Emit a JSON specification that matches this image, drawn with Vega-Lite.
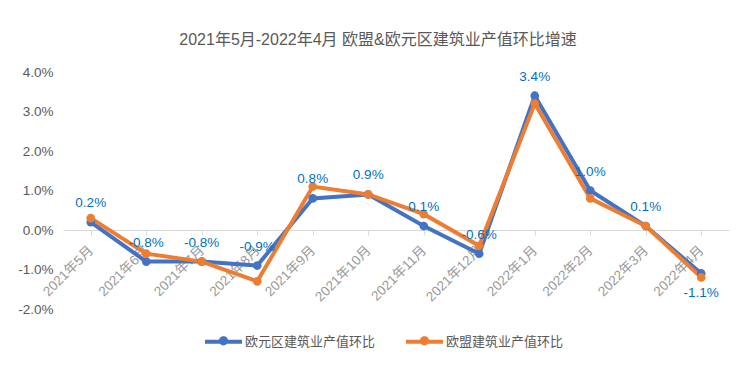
{
  "$schema": "https://vega.github.io/schema/vega-lite/v6.json",
  "autosize": {"type": "none"},
  "width": 666,
  "height": 237,
  "padding": {"left": 63, "top": 72, "right": 22, "bottom": 61},
  "background": "white",
  "title": {
    "text": "2021年5月-2022年4月 欧盟&欧元区建筑业产值环比增速",
    "frame": "group",
    "anchor": "middle",
    "dx": -18,
    "offset": 17,
    "fontSize": 16,
    "fontWeight": "normal",
    "color": "#595959",
    "font": "Liberation Sans, Noto Sans CJK SC"
  },
  "config": {
    "view": {"stroke": null},
    "font": "Liberation Sans, Noto Sans CJK SC"
  },
  "data": {
    "values": [
      {"month": "2021年5月", "series": "欧元区建筑业产值环比", "value": 0.002},
      {"month": "2021年6月", "series": "欧元区建筑业产值环比", "value": -0.008},
      {"month": "2021年7月", "series": "欧元区建筑业产值环比", "value": -0.008},
      {"month": "2021年8月", "series": "欧元区建筑业产值环比", "value": -0.009},
      {"month": "2021年9月", "series": "欧元区建筑业产值环比", "value": 0.008},
      {"month": "2021年10月", "series": "欧元区建筑业产值环比", "value": 0.009},
      {"month": "2021年11月", "series": "欧元区建筑业产值环比", "value": 0.001},
      {"month": "2021年12月", "series": "欧元区建筑业产值环比", "value": -0.006},
      {"month": "2022年1月", "series": "欧元区建筑业产值环比", "value": 0.034},
      {"month": "2022年2月", "series": "欧元区建筑业产值环比", "value": 0.010},
      {"month": "2022年3月", "series": "欧元区建筑业产值环比", "value": 0.001},
      {"month": "2022年4月", "series": "欧元区建筑业产值环比", "value": -0.011},
      {"month": "2021年5月", "series": "欧盟建筑业产值环比", "value": 0.003},
      {"month": "2021年6月", "series": "欧盟建筑业产值环比", "value": -0.006},
      {"month": "2021年7月", "series": "欧盟建筑业产值环比", "value": -0.008},
      {"month": "2021年8月", "series": "欧盟建筑业产值环比", "value": -0.013},
      {"month": "2021年9月", "series": "欧盟建筑业产值环比", "value": 0.011},
      {"month": "2021年10月", "series": "欧盟建筑业产值环比", "value": 0.009},
      {"month": "2021年11月", "series": "欧盟建筑业产值环比", "value": 0.004},
      {"month": "2021年12月", "series": "欧盟建筑业产值环比", "value": -0.004},
      {"month": "2022年1月", "series": "欧盟建筑业产值环比", "value": 0.032},
      {"month": "2022年2月", "series": "欧盟建筑业产值环比", "value": 0.008},
      {"month": "2022年3月", "series": "欧盟建筑业产值环比", "value": 0.001},
      {"month": "2022年4月", "series": "欧盟建筑业产值环比", "value": -0.012}
    ]
  },
  "encoding": {
    "x": {
      "field": "month",
      "type": "ordinal",
      "sort": null,
      "scale": {"paddingInner": 0, "paddingOuter": 0},
      "axis": {
        "title": null,
        "offset": -79,
        "labelAngle": -45,
        "labelFontSize": 13.5,
        "labelColor": "#999999",
        "labelPadding": 8,
        "labelOffset": -5,
        "domainColor": "#d9d9d9",
        "tickColor": "#d9d9d9",
        "tickSize": 5,
        "bandPosition": 0,
        "grid": false
      }
    },
    "y": {
      "field": "value",
      "type": "quantitative",
      "scale": {"domain": [-0.02, 0.04], "nice": false},
      "axis": {
        "title": null,
        "labelExpr": "replace(format(datum.value, '.1%'), '\u2212', '-')",
        "values": [-0.02, -0.01, 0, 0.01, 0.02, 0.03, 0.04],
        "domain": false,
        "ticks": false,
        "grid": false,
        "labelFontSize": 13.5,
        "labelColor": "#595959",
        "labelPadding": 10
      }
    },
    "color": {
      "field": "series",
      "type": "nominal",
      "sort": ["欧元区建筑业产值环比", "欧盟建筑业产值环比"],
      "scale": {
        "domain": ["欧元区建筑业产值环比", "欧盟建筑业产值环比"],
        "range": ["#4472C4", "#ED7D31"]
      },
      "legend": {
        "title": null,
        "orient": "none",
        "direction": "horizontal",
        "legendX": 142,
        "legendY": 251,
        "symbolType": "M-1,-0.11 L1,-0.11 L1,0.11 L-1,0.11 Z M-0.25,-0.05 A0.25,0.25 0 1,1 0.25,-0.05 A0.25,0.25 0 1,1 -0.25,-0.05 Z",
        "symbolSize": 1369,
        "symbolStrokeWidth": 0,
        "labelFontSize": 13,
        "labelColor": "#595959",
        "labelOffset": 3,
        "columnPadding": 30
      }
    }
  },
  "layer": [
    {"mark": {"type": "line", "strokeWidth": 4}},
    {"mark": {"type": "point", "filled": true, "size": 75, "opacity": 1}},
    {
      "transform": [
        {"filter": "datum.series === '欧元区建筑业产值环比' && datum.month !== '2022年4月'"},
        {"calculate": "replace(format(datum.value, '.1%'), '\u2212', '-')", "as": "label"}
      ],
      "mark": {"type": "text", "dy": -19, "fontSize": 13.5},
      "encoding": {
        "text": {"field": "label", "type": "nominal"},
        "color": {"value": "#0070C0"}
      }
    },
    {
      "transform": [
        {"filter": "datum.series === '欧元区建筑业产值环比' && datum.month === '2022年4月'"},
        {"calculate": "replace(format(datum.value, '.1%'), '\u2212', '-')", "as": "label"}
      ],
      "mark": {"type": "text", "dy": 20, "fontSize": 13.5},
      "encoding": {
        "text": {"field": "label", "type": "nominal"},
        "color": {"value": "#0070C0"}
      }
    }
  ]
}
